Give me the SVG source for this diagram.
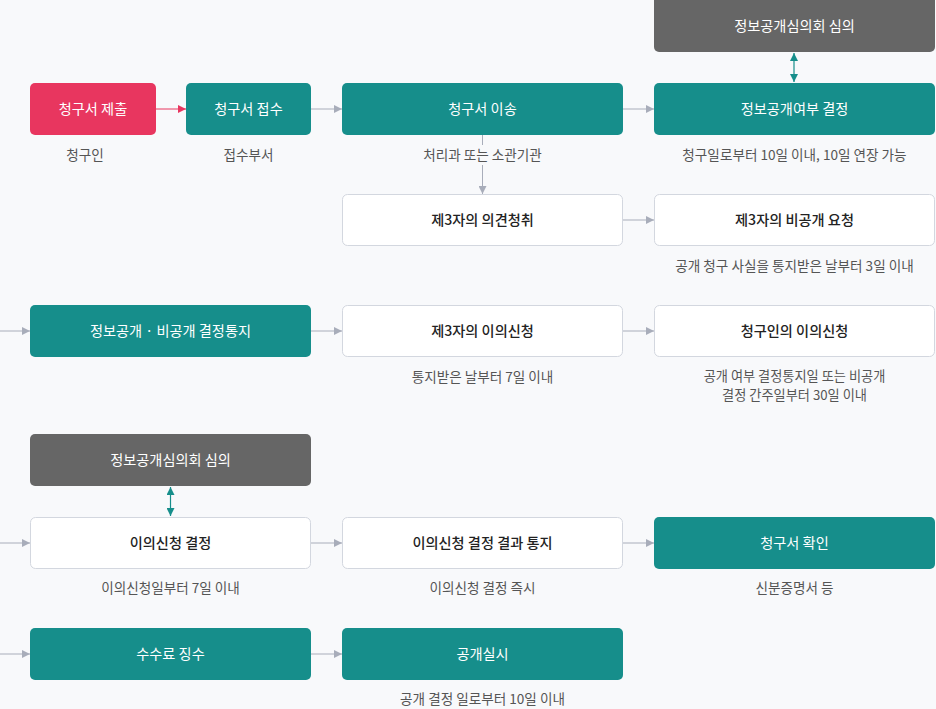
<svg xmlns="http://www.w3.org/2000/svg" width="936" height="709" viewBox="0 0 936 709">
<defs>
<marker id="ag" viewBox="0 0 10 10" refX="10" refY="5" markerWidth="8" markerHeight="8" markerUnits="userSpaceOnUse" orient="auto"><path d="M0,0 L10,5 L0,10 z" fill="#a8adba"/></marker>
<marker id="ar" viewBox="0 0 10 10" refX="10" refY="5" markerWidth="8" markerHeight="8" markerUnits="userSpaceOnUse" orient="auto"><path d="M0,0 L10,5 L0,10 z" fill="#e8365f"/></marker>
<marker id="at" viewBox="0 0 10 10" refX="10" refY="5" markerWidth="8" markerHeight="8" markerUnits="userSpaceOnUse" orient="auto-start-reverse"><path d="M0,0 L10,5 L0,10 z" fill="#168e8b"/></marker>
</defs>
<style>
text{font-family:"Noto Sans CJK KR","Noto Sans",sans-serif;text-anchor:middle}
.t{font-size:14.2px;font-weight:400;fill:#fff}
.tw{font-size:14.2px;font-weight:500;fill:#222}
.d{font-size:13.6px;fill:#555}
.d2{font-size:13.2px;fill:#555}
.teal{fill:#168e8b}
.red{fill:#e8365f}
.gray{fill:#666666}
.white{fill:#fff;stroke:#d3d7df;stroke-width:1}
.c{stroke:#a8adba;stroke-width:1;fill:none}
</style>
<rect width="936" height="709" fill="#f8f9fb"/>
<g id="connectors">
<line x1="156" y1="109" x2="186" y2="109" stroke="#e8365f" stroke-width="1" marker-end="url(#ar)"/>
<line class="c" x1="311" y1="109" x2="342" y2="109" marker-end="url(#ag)"/>
<line class="c" x1="623" y1="109" x2="654" y2="109" marker-end="url(#ag)"/>
<line x1="794" y1="53" x2="794" y2="82" stroke="#168e8b" stroke-width="1.2" marker-start="url(#at)" marker-end="url(#at)"/>
<line class="c" x1="482.5" y1="135" x2="482.5" y2="145"/>
<line class="c" x1="482.5" y1="165" x2="482.5" y2="194" marker-end="url(#ag)"/>
<line class="c" x1="623" y1="220" x2="654" y2="220" marker-end="url(#ag)"/>
<line class="c" x1="0" y1="331" x2="30" y2="331" marker-end="url(#ag)"/>
<line class="c" x1="311" y1="331" x2="342" y2="331" marker-end="url(#ag)"/>
<line class="c" x1="623" y1="331" x2="654" y2="331" marker-end="url(#ag)"/>
<line x1="170.5" y1="487" x2="170.5" y2="516" stroke="#168e8b" stroke-width="1.2" marker-start="url(#at)" marker-end="url(#at)"/>
<line class="c" x1="0" y1="543" x2="30" y2="543" marker-end="url(#ag)"/>
<line class="c" x1="311" y1="543" x2="342" y2="543" marker-end="url(#ag)"/>
<line class="c" x1="623" y1="543" x2="654" y2="543" marker-end="url(#ag)"/>
<line class="c" x1="0" y1="654" x2="30" y2="654" marker-end="url(#ag)"/>
<line class="c" x1="311" y1="654" x2="342" y2="654" marker-end="url(#ag)"/>
</g>
<g id="n-review1"><rect class="gray" x="654" y="-6" width="281" height="58" rx="5"/><text class="t" x="794.5" y="31">정보공개심의회 심의</text></g>
<g id="n-submit"><rect class="red" x="30" y="83" width="126" height="52" rx="5"/><text class="t" x="93" y="114">청구서 제출</text><text class="d" x="85" y="160">청구인</text></g>
<g id="n-receive"><rect class="teal" x="186" y="83" width="125" height="52" rx="5"/><text class="t" x="248.5" y="114">청구서 접수</text><text class="d" x="248.5" y="160">접수부서</text></g>
<g id="n-transfer"><rect class="teal" x="342" y="83" width="281" height="52" rx="5"/><text class="t" x="482.5" y="114">청구서 이송</text><text class="d" x="482.5" y="160">처리과 또는 소관기관</text></g>
<g id="n-decide"><rect class="teal" x="654" y="83" width="281" height="52" rx="5"/><text class="t" x="794.5" y="114">정보공개여부 결정</text><text class="d" x="794.5" y="160">청구일로부터 10일 이내, 10일 연장 가능</text></g>
<g id="n-opinion"><rect class="white" x="342.5" y="194.5" width="280" height="51" rx="5"/><text class="tw" x="482.5" y="225">제3자의 의견청취</text></g>
<g id="n-nondisclose"><rect class="white" x="654.5" y="194.5" width="280" height="51" rx="5"/><text class="tw" x="794.5" y="225">제3자의 비공개 요청</text><text class="d" x="794.5" y="271">공개 청구 사실을 통지받은 날부터 3일 이내</text></g>
<g id="n-notify"><rect class="teal" x="30" y="305" width="281" height="52" rx="5"/><text class="t" x="170.5" y="336">정보공개 · 비공개 결정통지</text></g>
<g id="n-objection3"><rect class="white" x="342.5" y="305.5" width="280" height="51" rx="5"/><text class="tw" x="482.5" y="336">제3자의 이의신청</text><text class="d" x="482.5" y="382">통지받은 날부터 7일 이내</text></g>
<g id="n-objection"><rect class="white" x="654.5" y="305.5" width="280" height="51" rx="5"/><text class="tw" x="794.5" y="336">청구인의 이의신청</text><text class="d2" x="794.5" y="381">공개 여부 결정통지일 또는 비공개</text><text class="d2" x="794.5" y="400">결정 간주일부터 30일 이내</text></g>
<g id="n-review2"><rect class="gray" x="30" y="434" width="281" height="52" rx="5"/><text class="t" x="170.5" y="465">정보공개심의회 심의</text></g>
<g id="n-objdecide"><rect class="white" x="30.5" y="517.5" width="280" height="51" rx="5"/><text class="tw" x="170.5" y="548">이의신청 결정</text><text class="d" x="170.5" y="593">이의신청일부터 7일 이내</text></g>
<g id="n-objresult"><rect class="white" x="342.5" y="517.5" width="280" height="51" rx="5"/><text class="tw" x="482.5" y="548">이의신청 결정 결과 통지</text><text class="d" x="482.5" y="593">이의신청 결정 즉시</text></g>
<g id="n-check"><rect class="teal" x="654" y="517" width="281" height="52" rx="5"/><text class="t" x="794.5" y="548">청구서 확인</text><text class="d" x="794.5" y="593">신분증명서 등</text></g>
<g id="n-fee"><rect class="teal" x="30" y="628" width="281" height="52" rx="5"/><text class="t" x="170.5" y="659">수수료 징수</text></g>
<g id="n-open"><rect class="teal" x="342" y="628" width="281" height="52" rx="5"/><text class="t" x="482.5" y="659">공개실시</text><text class="d" x="482.5" y="704">공개 결정 일로부터 10일 이내</text></g>
</svg>
